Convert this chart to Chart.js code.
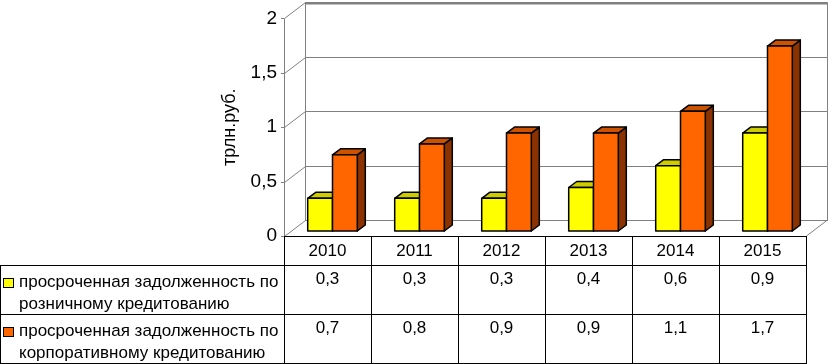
<!DOCTYPE html>
<html lang="ru">
<head>
<meta charset="UTF-8">
<title>Просроченная задолженность</title>
<script src="https://cdn.jsdelivr.net/npm/chart.js"></script>
<style>
body { margin: 0; background: #fff; font-family: "Liberation Sans", Arial, sans-serif; }
.wrap { position: relative; width: 828px; height: 364px; overflow: hidden; }
#chart { position: absolute; left: 0; top: 0; }
.cell { position: absolute; font-size: 17px; line-height: 20px; color: #000; text-align: center; }
.rowname { position: absolute; left: 19px; font-size: 17px; line-height: 22px; color: #000; white-space: nowrap; }
.mark { position: absolute; left: 3px; width: 9px; height: 8px; border: 1.5px solid #000; }
</style>
</head>
<body>
<div class="wrap" id="wrap">
  <canvas id="chart" width="828" height="364"></canvas>
</div>
<script>
const years = ['2010', '2011', '2012', '2013', '2014', '2015'];
const retail = [0.3, 0.3, 0.3, 0.4, 0.6, 0.9];
const corporate = [0.7, 0.8, 0.9, 0.9, 1.1, 1.7];
const seriesNames = [
  ['просроченная задолженность по', 'розничному кредитованию'],
  ['просроченная задолженность по', 'корпоративному кредитованию']
];
const yTicks = [0, 0.5, 1, 1.5, 2];

// цвета граней: фронт, верх, бок
const faces = [
  { front: '#FFFF00', top: '#CCCC00', side: '#999900' },
  { front: '#FF6600', top: '#CC5200', side: '#8A3300' }
];

const WALL_DX = 21, WALL_DY = -16;   // глубина стенок
const BAR_DX = 5, BAR_DY = -5;       // сдвиг столбиков вглубь
const SIDE_DX = 8, SIDE_DY = -6;     // толщина столбика
const ROW_LINES = [265, 314, 363];
const FONT = '"Liberation Sans", Arial';

const fmt = v => String(v).replace('.', ',');

const box3d = {
  id: 'box3d',
  beforeDraw(chart) {
    const { ctx, chartArea: a } = chart;
    const y = chart.scales.y;
    ctx.save();
    ctx.lineWidth = 1;
    ctx.strokeStyle = '#808080';
    const line = (x1, y1, x2, y2) => {
      ctx.beginPath(); ctx.moveTo(x1, y1); ctx.lineTo(x2, y2); ctx.stroke();
    };
    // задняя стенка
    ctx.strokeRect(a.left + WALL_DX + 0.5, a.top + WALL_DY + 0.5, a.right - a.left, a.bottom - a.top);
    yTicks.forEach(v => {
      const py = Math.round(y.getPixelForValue(v)) + 0.5;
      line(a.left + WALL_DX, py + WALL_DY, a.right + WALL_DX, py + WALL_DY);
      line(a.left + 0.5, py, a.left + WALL_DX + 0.5, py + WALL_DY);
      line(a.left - 3, py, a.left, py);
    });
    ctx.lineWidth = 2;
    line(a.left + WALL_DX, a.top + WALL_DY + 1, a.right + WALL_DX + 1, a.top + WALL_DY + 1);
    ctx.lineWidth = 1;
    // левая ось и правое ребро пола
    line(a.left + 0.5, a.top, a.left + 0.5, a.bottom);
    line(a.right + 0.5, a.bottom, a.right + WALL_DX + 0.5, a.bottom + WALL_DY);
    ctx.restore();
  },
  beforeDatasetsDraw(chart) {
    const { ctx } = chart;
    ctx.save();
    ctx.lineWidth = 1.5;
    ctx.strokeStyle = '#000';
    ctx.lineJoin = 'round';
    const poly = (pts, fill) => {
      ctx.beginPath();
      pts.forEach((p, i) => i ? ctx.lineTo(p[0], p[1]) : ctx.moveTo(p[0], p[1]));
      ctx.closePath();
      ctx.fillStyle = fill;
      ctx.fill();
      ctx.stroke();
    };
    chart.data.datasets.forEach((ds, di) => {
      const c = faces[di];
      chart.getDatasetMeta(di).data.forEach(bar => {
        const p = bar.getProps(['x', 'y', 'base', 'width'], true);
        const l = p.x - p.width / 2 + BAR_DX, r = p.x + p.width / 2 + BAR_DX;
        const t = p.y + BAR_DY, b = p.base + BAR_DY;
        poly([[r, t], [r + SIDE_DX, t + SIDE_DY], [r + SIDE_DX, b + SIDE_DY], [r, b]], c.side);
        poly([[l, t], [l + SIDE_DX, t + SIDE_DY], [r + SIDE_DX, t + SIDE_DY], [r, t]], c.top);
        poly([[l, t], [r, t], [r, b], [l, b]], c.front);
      });
    });
    ctx.restore();
    return false;
  },
  afterDraw(chart) {
    const { ctx, chartArea: a } = chart;
    const x = chart.scales.x;
    const step = x.width / years.length;
    ctx.save();
    ctx.lineWidth = 1;
    ctx.strokeStyle = '#000';
    ctx.beginPath();
    ctx.moveTo(a.left, a.bottom + 0.5); ctx.lineTo(a.right, a.bottom + 0.5);
    ROW_LINES.forEach(ry => { ctx.moveTo(0, ry + 0.5); ctx.lineTo(a.right, ry + 0.5); });
    for (let i = 0; i <= years.length; i++) {
      const cx = Math.round(x.left + i * step) + 0.5;
      ctx.moveTo(cx, a.bottom); ctx.lineTo(cx, ROW_LINES[ROW_LINES.length - 1] + 1);
    }
    ctx.moveTo(0.5, ROW_LINES[0]); ctx.lineTo(0.5, ROW_LINES[ROW_LINES.length - 1] + 1);
    ctx.stroke();
    ctx.restore();
  }
};

const chart = new Chart(document.getElementById('chart'), {
  type: 'bar',
  data: {
    labels: years,
    datasets: [
      { label: seriesNames[0].join(' '), data: retail, backgroundColor: faces[0].front },
      { label: seriesNames[1].join(' '), data: corporate, backgroundColor: faces[1].front }
    ]
  },
  options: {
    responsive: false,
    animation: false,
    events: [],
    layout: { padding: { left: 214, right: 22, top: 17, bottom: 100 } },
    categoryPercentage: 0.57,
    barPercentage: 1,
    plugins: { legend: { display: false }, tooltip: { enabled: false } },
    scales: {
      x: {
        grid: { display: false, drawTicks: false },
        border: { display: false },
        ticks: { color: '#000', font: { family: FONT, size: 17 }, padding: 5 },
        afterFit: s => { s.height = 28; }
      },
      y: {
        min: 0, max: 2,
        afterBuildTicks: s => { s.ticks = yTicks.map(v => ({ value: v })); },
        grid: { display: false, drawTicks: false },
        border: { display: false },
        ticks: { color: '#000', font: { family: FONT, size: 19 }, padding: 7, callback: v => fmt(v) },
        title: { display: true, text: 'трлн.руб.', color: '#000', font: { family: FONT, size: 18 }, padding: { top: 5, bottom: 0 } },
        afterFit: s => { s.width = 70; }
      }
    }
  },
  plugins: [box3d]
});

// таблица данных под диаграммой
const wrap = document.getElementById('wrap');
const xs = chart.scales.x;
const colW = xs.width / years.length;
[retail, corporate].forEach((vals, si) => {
  const top = ROW_LINES[si];
  const mark = document.createElement('div');
  mark.className = 'mark';
  mark.style.top = (top + 13) + 'px';
  mark.style.background = faces[si].front;
  wrap.appendChild(mark);
  const name = document.createElement('div');
  name.className = 'rowname';
  name.style.top = (top + 6) + 'px';
  name.innerHTML = seriesNames[si].join('<br>');
  wrap.appendChild(name);
  vals.forEach((v, i) => {
    const cell = document.createElement('div');
    cell.className = 'cell';
    cell.style.left = (xs.getPixelForValue(i) - colW / 2) + 'px';
    cell.style.width = colW + 'px';
    cell.style.top = (top + 4) + 'px';
    cell.textContent = fmt(v);
    wrap.appendChild(cell);
  });
});
</script>
</body>
</html>
